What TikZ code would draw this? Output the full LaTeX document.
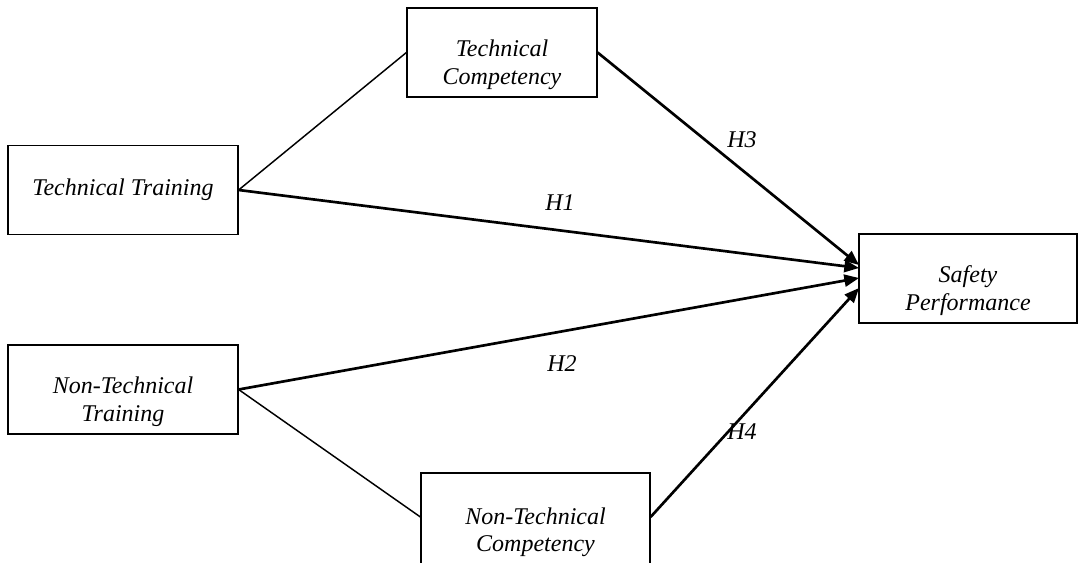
\documentclass[tikz,border=0pt]{standalone}
\usepackage{fontspec}
\setmainfont{Liberation Serif}
\usetikzlibrary{arrows.meta}
\newcommand{\boxtxt}[2]{\raisebox{-13.8pt}[0pt][0pt]{\begin{tabular}{@{}c@{}}#1\\#2\end{tabular}}}
\begin{document}
\begin{tikzpicture}[x=0.75pt,y=-0.75pt,
  box/.style={draw,line width=0.9pt,inner sep=0pt,align=center,font=\fontsize{18}{20.6}\selectfont\itshape},
  thin/.style={line width=1.1pt},
  arr/.style={line width=2pt,-{Triangle[length=11pt,width=9pt]}},
  hlab/.style={font=\fontsize{18}{18}\selectfont\itshape}]
\useasboundingbox (0,0) rectangle (1080,563);
\node[box,minimum width=230*0.75pt,minimum height=89*0.75pt] (tt) at (123,190) {Technical Training};
\node[box,minimum width=190*0.75pt,minimum height=89*0.75pt] (tc) at (502,52.5) {\boxtxt{Technical}{Competency}};
\node[box,minimum width=218*0.75pt,minimum height=89*0.75pt] (sp) at (968,278.5) {\boxtxt{Safety}{Performance}};
\node[box,minimum width=230*0.75pt,minimum height=89*0.75pt] (ntt) at (123,389.5) {\boxtxt{Non-Technical}{Training}};
\node[box,minimum width=229*0.75pt,minimum height=94*0.75pt] (ntc) at (535.5,520) {\boxtxt{Non-Technical}{Competency}};
\coordinate (e3) at (859,265);
\coordinate (e1) at (859,268);
\coordinate (e2) at (859,278);
\coordinate (e4) at (859,288);
\draw[thin] (tt.east) -- (tc.west);
\draw[thin] (ntt.east) -- ([yshift=3*0.75pt]ntc.west);
\draw[arr] (tc.east) -- (e3);
\draw[arr] (tt.east) -- (e1);
\draw[arr] (ntt.east) -- (e2);
\draw[arr] ([yshift=3*0.75pt]ntc.east) -- (e4);
\node[hlab] (h1) at (560,203) {H1};
\node[hlab] (h2) at (562,364) {H2};
\node[hlab] (h3) at (742,140) {H3};
\node[hlab] (h4) at (742,432) {H4};
\end{tikzpicture}
\end{document}
